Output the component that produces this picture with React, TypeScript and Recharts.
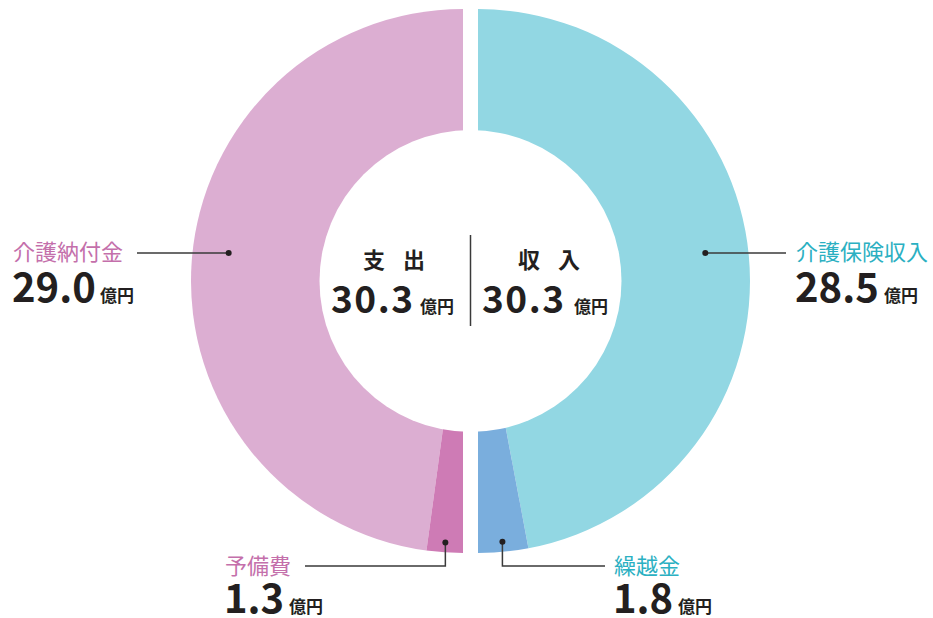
import { Cell, Pie, PieChart } from "recharts";

// 支出 (left half) / 収入 (right half), 単位: 億円
const expenseNames = ["介護納付金", "予備費"];
const expenseValues = [29.0, 1.3];
const expenseColors = ["#DCAED2", "#CE7BB5"];

const incomeNames = ["介護保険収入", "繰越金"];
const incomeValues = [28.5, 1.8];
const incomeColors = ["#92D7E3", "#7AAEDD"];

const totalLabels = ["支出", "収入"];
const totalValues = [30.3, 30.3];
const unit = "億円";

const expenseData = expenseNames.map((name, i) => ({ name, value: expenseValues[i] }));
const incomeData = incomeNames.map((name, i) => ({ name, value: incomeValues[i] }));
const totalData = totalLabels.map((name, i) => ({ name, value: totalValues[i] }));

const PINK_TEXT = "#C46FAB";
const TEAL_TEXT = "#2BB0C2";
const DARK = "#231F20";
const FONT = '"Noto Sans CJK JP", "Noto Sans", sans-serif';

const LEFT_CX = 463;
const RIGHT_CX = 478;
const MID_CX = (LEFT_CX + RIGHT_CX) / 2;
const CY = 281;
const OUTER = 272;
const HOLE = 151;

type LabelCfg = {
  kind: "side" | "bottom";
  dotR: number;
  lineY: number;
  lineEnd: number;
  textX: number;
  textY: number;
  numY: number;
  unitX: number;
  color: string;
};

const labelLayout: Record<string, LabelCfg> = {
  介護納付金: { kind: "side", dotR: 236, lineY: 253, lineEnd: 137, textX: 13, textY: 260, numY: 302, unitX: 100, color: PINK_TEXT },
  予備費: { kind: "bottom", dotR: 262, lineY: 566, lineEnd: 305, textX: 225, textY: 574, numY: 613, unitX: 289, color: PINK_TEXT },
  介護保険収入: { kind: "side", dotR: 229, lineY: 253, lineEnd: 786, textX: 796, textY: 260, numY: 302, unitX: 884, color: TEAL_TEXT },
  繰越金: { kind: "bottom", dotR: 262, lineY: 566, lineEnd: 605, textX: 614, textY: 574, numY: 613, unitX: 678, color: TEAL_TEXT },
};

const centerLayout: Record<string, { x: number; numX: number; unitX: number }> = {
  支出: { x: 363, numX: 331, unitX: 420 },
  収入: { x: 518, numX: 482, unitX: 574 },
};

const RADIAN = Math.PI / 180;

const renderLabel = (props: any) => {
  const { cx, cy, midAngle, name, value } = props;
  const cfg = labelLayout[name];
  if (!cfg) return null;
  const cos = Math.cos(-midAngle * RADIAN);
  const sin = Math.sin(-midAngle * RADIAN);
  let dx: number;
  let dy: number;
  let path: string;
  if (cfg.kind === "side") {
    dy = cfg.lineY;
    dx = cx + Math.sign(cos) * Math.sqrt(cfg.dotR * cfg.dotR - (cfg.lineY - cy) ** 2);
    path = `M${dx},${dy}H${cfg.lineEnd}`;
  } else {
    dx = cx + cfg.dotR * cos;
    dy = cy + cfg.dotR * sin;
    path = `M${dx},${dy}V${cfg.lineY}H${cfg.lineEnd}`;
  }
  return (
    <g key={name}>
      <path d={path} stroke="#3a3a3a" strokeWidth={1.5} fill="none" />
      <circle cx={dx} cy={dy} r={3} fill="#231F20" />
      <text x={cfg.textX} y={cfg.textY} fill={cfg.color} fontSize={22} fontFamily={FONT}>
        {name}
      </text>
      <text x={cfg.textX - 1} y={cfg.numY} fill={DARK} fontSize={40} fontWeight={600} fontFamily={FONT}>
        {value.toFixed(1)}
      </text>
      <text x={cfg.unitX} y={cfg.numY} fill={DARK} fontSize={17} fontWeight={700} fontFamily={FONT}>
        {unit}
      </text>
    </g>
  );
};

const renderCenter = (props: any) => {
  const { cx, name, value, index } = props;
  const b = centerLayout[name];
  if (!b) return null;
  return (
    <g key={name}>
      {index === 0 && <line x1={cx} x2={cx} y1={235} y2={326} stroke="#3a3a3a" strokeWidth={1.5} />}
      <text x={b.x} y={268} fill={DARK} fontSize={22} fontWeight={700} letterSpacing={18} fontFamily={FONT}>
        {name}
      </text>
      <text
        x={b.numX}
        y={313}
        fill={DARK}
        fontSize={37}
        fontWeight={600}
        letterSpacing={1.5}
        fontFamily={FONT}
      >
        {value.toFixed(1)}
      </text>
      <text x={b.unitX} y={313} fill={DARK} fontSize={17} fontWeight={700} fontFamily={FONT}>
        {unit}
      </text>
    </g>
  );
};

export default function App() {
  return (
    <div style={{ position: "absolute", left: 0, top: 0, width: 933, height: 618, background: "#fff" }}>
      <PieChart width={933} height={618} margin={{ top: 0, right: 0, bottom: 0, left: 0 }}>
        <Pie
          data={expenseData}
          dataKey="value"
          nameKey="name"
          cx={LEFT_CX}
          cy={CY}
          innerRadius={0}
          outerRadius={OUTER}
          startAngle={90}
          endAngle={270}
          stroke="none"
          label={renderLabel}
          labelLine={false}
          isAnimationActive={false}
        >
          {expenseData.map((d, i) => (
            <Cell key={d.name} fill={expenseColors[i]} />
          ))}
        </Pie>
        <Pie
          data={incomeData}
          dataKey="value"
          nameKey="name"
          cx={RIGHT_CX}
          cy={CY}
          innerRadius={0}
          outerRadius={OUTER}
          startAngle={90}
          endAngle={-90}
          stroke="none"
          label={renderLabel}
          labelLine={false}
          isAnimationActive={false}
        >
          {incomeData.map((d, i) => (
            <Cell key={d.name} fill={incomeColors[i]} />
          ))}
        </Pie>
        <Pie
          data={totalData}
          dataKey="value"
          nameKey="name"
          cx={MID_CX}
          cy={CY}
          innerRadius={0}
          outerRadius={HOLE}
          startAngle={90}
          endAngle={450}
          fill="#ffffff"
          stroke="none"
          label={renderCenter}
          labelLine={false}
          isAnimationActive={false}
        />
      </PieChart>
    </div>
  );
}
